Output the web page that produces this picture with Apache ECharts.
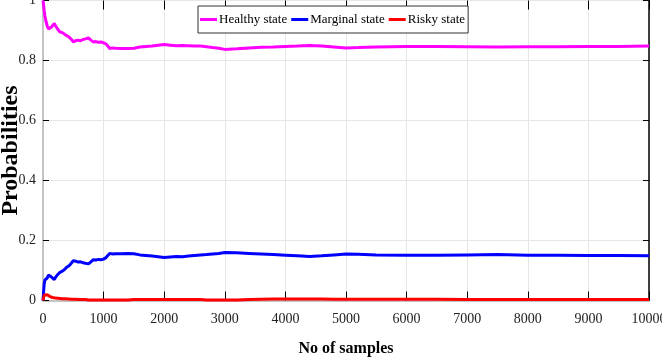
<!DOCTYPE html>
<html><head><meta charset="utf-8">
<script src="https://cdn.jsdelivr.net/npm/echarts@6/dist/echarts.min.js"></script>
<style>html,body{margin:0;padding:0;background:#fff}#c{width:662px;height:362px}</style>
</head><body><div id="c"></div>
<script>
var samples = [0,10,20,30,50,70,90,115,140,160,187,210,240,280,320,360,390,430,470,500,540,580,620,660,700,750,790,830,870,920,960,1000,1040,1070,1100,1150,1200,1300,1400,1500,1600,1700,1800,1900,2000,2100,2200,2300,2400,2500,2600,2700,2800,2900,3000,3200,3400,3600,3800,4000,4200,4400,4600,4800,5000,5200,5500,6000,6500,7000,7500,8000,8500,9000,9500,10000];
var healthy = [1.00,0.985,0.965,0.950,0.930,0.915,0.905,0.908,0.912,0.918,0.923,0.915,0.905,0.895,0.893,0.887,0.884,0.878,0.870,0.862,0.866,0.868,0.866,0.870,0.872,0.875,0.868,0.862,0.863,0.861,0.862,0.859,0.855,0.848,0.840,0.842,0.841,0.840,0.840,0.841,0.845,0.847,0.848,0.851,0.853,0.851,0.849,0.850,0.849,0.848,0.848,0.846,0.843,0.841,0.837,0.839,0.842,0.844,0.845,0.847,0.848,0.850,0.848,0.845,0.842,0.843,0.845,0.847,0.847,0.846,0.845,0.846,0.846,0.847,0.847,0.848];
var marginal = [0.000,0.030,0.055,0.068,0.062,0.075,0.085,0.083,0.078,0.074,0.070,0.078,0.086,0.094,0.098,0.104,0.111,0.116,0.125,0.133,0.131,0.128,0.129,0.126,0.124,0.122,0.129,0.136,0.135,0.137,0.136,0.138,0.143,0.150,0.157,0.155,0.156,0.156,0.157,0.156,0.152,0.150,0.148,0.146,0.143,0.145,0.147,0.146,0.148,0.150,0.152,0.153,0.155,0.157,0.160,0.159,0.157,0.155,0.153,0.151,0.149,0.147,0.149,0.152,0.155,0.154,0.152,0.151,0.151,0.152,0.153,0.151,0.151,0.150,0.150,0.149];
var risky = [0.000,0.010,0.018,0.020,0.021,0.019,0.016,0.013,0.011,0.010,0.009,0.008,0.007,0.007,0.006,0.006,0.005,0.005,0.004,0.004,0.004,0.003,0.003,0.003,0.003,0.002,0.002,0.002,0.002,0.002,0.002,0.002,0.002,0.002,0.002,0.002,0.002,0.002,0.002,0.003,0.003,0.003,0.003,0.003,0.003,0.003,0.003,0.003,0.003,0.003,0.003,0.002,0.002,0.002,0.002,0.002,0.003,0.004,0.005,0.005,0.005,0.005,0.005,0.004,0.004,0.004,0.004,0.004,0.004,0.003,0.003,0.003,0.003,0.003,0.003,0.003];
var seriesNames = ['Healthy state','Marginal state','Risky state'];
var seriesColors = ['#ff00ff','#0000ff','#ff0000'];

function zip(ys){ return samples.map(function(x,i){ return [x, ys[i]]; }); }
var font = 'Liberation Serif';
var chart = echarts.init(document.getElementById('c'), null, {renderer:'canvas'});
var tickStyle = {color:'#000', width:1};
chart.setOption({
  animation:false,
  grid:{left:43, right:13, top:0.5, bottom:61.5, containLabel:false, outerBoundsMode:'none'},
  legend:{
    left:198, top:6, padding:[7,3,7,2], itemGap:4, itemWidth:17, itemHeight:3, icon:'rect',
    borderColor:'#333', borderWidth:1, backgroundColor:'#fff',
    textStyle:{fontFamily:font, fontSize:13, color:'#000', padding:[0,0,0,-3]},
    data:seriesNames
  },
  xAxis:[{
    type:'value', min:0, max:10000, interval:1000,
    name:'No of samples', nameLocation:'middle', nameGap:40,
    nameTextStyle:{fontFamily:font, fontSize:16, fontWeight:'bold', color:'#000'},
    axisLine:{show:true, onZero:false, lineStyle:{color:'#c4c4c4', width:2}},
    axisTick:{show:true, inside:true, length:9, lineStyle:tickStyle},
    axisLabel:{fontFamily:font, fontSize:14, color:'#222', margin:12, showMaxLabel:true, hideOverlap:false,
      formatter:function(v){ return String(v); }},
    splitLine:{show:true, lineStyle:{color:'#e6e6e6', width:1}}
  },{
    type:'value', position:'top', min:0, max:10000, interval:1000,
    axisLine:{show:false, onZero:false}, axisTick:{show:true, inside:true, length:9, lineStyle:tickStyle},
    axisLabel:{show:false}, splitLine:{show:false}
  }],
  yAxis:[{
    type:'value', min:0, max:1, interval:0.2,
    name:'Probabilities', nameLocation:'middle', nameGap:20, nameMoveOverlap:false,
    nameTextStyle:{fontFamily:font, fontSize:24, fontWeight:'bold', color:'#000'},
    axisLine:{show:true, onZero:false, lineStyle:{color:'#c4c4c4', width:2}},
    axisTick:{show:true, inside:true, length:6, lineStyle:tickStyle},
    axisLabel:{fontFamily:font, fontSize:14, color:'#222', margin:7,
      formatter:function(v){ return String(Math.round(v*10)/10); }},
    splitLine:{show:true, lineStyle:{color:'#e6e6e6', width:1}}
  },{
    type:'value', position:'right', min:0, max:1, interval:0.2,
    axisLine:{show:true, onZero:false, lineStyle:{color:'#000', width:1.5}},
    axisTick:{show:true, inside:true, length:6, lineStyle:tickStyle},
    axisLabel:{show:false}, splitLine:{show:false}
  }],
  series:[0,1,2].map(function(i){
    var ys = [healthy, marginal, risky][i];
    return {
      name:seriesNames[i], type:'line', xAxisIndex:0, yAxisIndex:0,
      data:zip(ys), showSymbol:false, symbol:'none',
      lineStyle:{color:seriesColors[i], width:3}, itemStyle:{color:seriesColors[i]},
      z:2+i
    };
  })
});
</script></body></html>
